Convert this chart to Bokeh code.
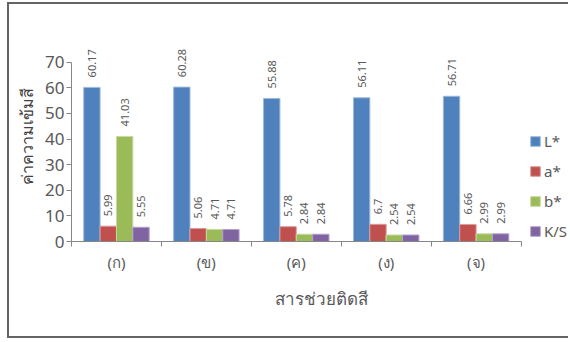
import numpy as np
from bokeh.plotting import figure
from bokeh.models import ColumnDataSource, Range1d, FixedTicker, LabelSet, Legend, LegendItem
from bokeh.embed import file_html
from bokeh.resources import INLINE
from bokeh.core.properties import value

categories = ["(ก)", "(ข)", "(ค)", "(ง)", "(จ)"]
series_names = ["L*", "a*", "b*", "K/S"]
L_star = [60.17, 60.28, 55.88, 56.11, 56.71]
a_star = [5.99, 5.06, 5.78, 6.7, 6.66]
b_star = [41.03, 4.71, 2.84, 2.54, 2.99]
k_s = [5.55, 4.71, 2.84, 2.54, 2.99]
y_ticks = [0, 10, 20, 30, 40, 50, 60, 70]

colors = ["#4F81BD", "#C0504D", "#9BBB59", "#8064A2"]
edges = ["#9DB9DC", "#DD9C9A", "#C5DA9E", "#B3A2C9"]
FONT = "Noto Sans"
TXT = "#595959"
AX = "#868686"

n = len(categories)
p = figure(width=561, height=336, x_range=Range1d(0, 5.55), y_range=Range1d(0, 82),
           output_backend="svg", toolbar_location=None,
           min_border_left=62, min_border_right=0, min_border_top=27, min_border_bottom=99,
           outline_line_color=None)
p.styles = {"margin-left": "7px", "margin-top": "2px",
            "border-left": "2px solid #646464", "border-top": "2px solid #646464",
            "border-bottom": "2px solid #646464"}
p.grid.visible = False

centers = list(np.arange(n) + 0.5)
bar_w = 0.182
offsets = [(-1.5 + j) * bar_w for j in range(4)]

items = []
for j, (name, vals) in enumerate(zip(series_names, [L_star, a_star, b_star, k_s])):
    src = ColumnDataSource(dict(x=[c + offsets[j] for c in centers], top=vals,
                                lab=[str(v) for v in vals]))
    r = p.vbar(x="x", top="top", width=bar_w, source=src, fill_color=colors[j],
               line_color=edges[j], line_width=1)
    items.append(LegendItem(label=name, renderers=[r]))
    ls = LabelSet(x="x", y="top", text="lab", source=src, angle=np.pi / 2,
                  x_offset=0, y_offset=10, text_align="left", text_baseline="middle",
                  text_font=value(FONT), text_font_size=value("11px"), text_color=TXT)
    p.add_layout(ls)

xa = p.xaxis[0]
xa.bounds = (0, n)
xa.ticker = FixedTicker(ticks=centers, minor_ticks=list(range(n + 1)))
xa.major_label_overrides = {c: lab for c, lab in zip(centers, categories)}
xa.major_tick_out = 0
xa.major_tick_in = 0
xa.minor_tick_out = 5
xa.minor_tick_in = 0
xa.minor_tick_line_color = AX
xa.axis_line_color = AX
xa.major_label_text_font = FONT
xa.major_label_text_font_size = "15px"
xa.major_label_text_color = TXT
xa.major_label_standoff = 5
xa.axis_label = "สารช่วยติดสี"
xa.axis_label_text_font = FONT
xa.axis_label_text_font_size = "17px"
xa.axis_label_text_font_style = "normal"
xa.axis_label_text_color = TXT
xa.axis_label_standoff = 12

ya = p.yaxis[0]
ya.bounds = (0, 70)
ya.ticker = FixedTicker(ticks=y_ticks)
ya.minor_tick_line_color = None
ya.major_tick_out = 5
ya.major_tick_in = 0
ya.major_tick_line_color = AX
ya.axis_line_color = AX
ya.major_label_text_font = FONT
ya.major_label_text_font_size = "17px"
ya.major_label_text_color = TXT
ya.major_label_standoff = 2
ya.axis_label = "ค่าความเข้มสี"
ya.axis_label_text_font = FONT
ya.axis_label_text_font_size = "16px"
ya.axis_label_text_font_style = "normal"
ya.axis_label_text_color = "#404040"
ya.axis_label_standoff = 4

legend = Legend(items=items, location=(458, 0), orientation="vertical",
                glyph_width=12, glyph_height=12, label_height=20, spacing=10,
                label_standoff=3, padding=0, margin=0,
                border_line_color=None, background_fill_alpha=0,
                label_text_font=FONT, label_text_font_size="15px", label_text_color=TXT)
p.add_layout(legend)

open("out.html", "w").write(file_html(p, INLINE))
